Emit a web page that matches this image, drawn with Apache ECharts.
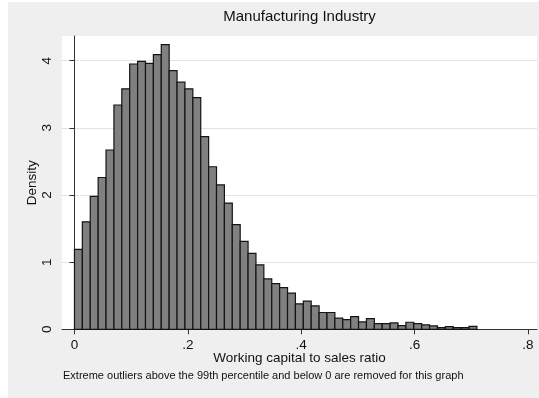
<!DOCTYPE html>
<html>
<head>
<meta charset="utf-8">
<script src="https://cdn.jsdelivr.net/npm/echarts@6/dist/echarts.min.js"></script>
<style>
  html, body { margin: 0; padding: 0; background: #ffffff; }
  #chart { position: absolute; left: 8px; top: 2px; width: 531px; height: 396px; }
</style>
</head>
<body>
<div id="chart"></div>
<script>
// Histogram of the working capital to sales ratio: 51 equal-width bins over [0, 0.71]
const binStart = 0;
const binEnd = 0.71;
const density = [
  1.19, 1.60, 1.98, 2.26, 2.67, 3.34, 3.58, 3.95, 3.99, 3.96,
  4.09, 4.24, 3.85, 3.68, 3.58, 3.45, 2.87, 2.42, 2.15, 1.88,
  1.56, 1.31, 1.13, 0.96, 0.75, 0.68, 0.62, 0.54, 0.38, 0.42,
  0.35, 0.25, 0.25, 0.165, 0.145, 0.19, 0.11, 0.16, 0.085, 0.085,
  0.095, 0.055, 0.105, 0.085, 0.065, 0.05, 0.025, 0.04, 0.025, 0.025,
  0.045
];
const xTicks = [0, 0.2, 0.4, 0.6, 0.8];
const xTickLabels = ['0', '.2', '.4', '.6', '.8'];
const yTicks = [0, 1, 2, 3, 4];
const yTickLabels = ['0', '1', '2', '3', '4'];

const titleText = 'Manufacturing Industry';
const xTitle = 'Working capital to sales ratio';
const yTitle = 'Density';
const noteText = 'Extreme outliers above the 99th percentile and below 0 are removed for this graph';

const FONT = '"Liberation Sans", Arial, sans-serif';
const binWidth = (binEnd - binStart) / density.length;
const histData = density.map((d, i) => [binStart + i * binWidth, binStart + (i + 1) * binWidth, d]);

const chart = echarts.init(document.getElementById('chart'), null, { renderer: 'canvas' });

chart.setOption({
  backgroundColor: '#efefef',
  animation: false,
  textStyle: { fontFamily: FONT },
  grid: {
    show: true,
    left: 54, top: 34, right: 2, bottom: 68.7,
    backgroundColor: '#ffffff',
    borderWidth: 0
  },
  xAxis: {
    type: 'value',
    min: -0.022,
    max: 0.816,
    name: xTitle,
    nameLocation: 'middle',
    nameGap: 22,
    nameMoveOverlap: false,
    nameTextStyle: { fontFamily: FONT, fontSize: 13.5, color: '#111' },
    axisLine: { show: true, onZero: false, lineStyle: { color: '#333', width: 1 } },
    axisTick: { show: true, inside: false, length: 5, customValues: xTicks, lineStyle: { color: '#333' } },
    axisLabel: {
      customValues: xTicks,
      margin: 9,
      fontFamily: FONT, fontSize: 13.5, color: '#111',
      formatter: v => xTickLabels[xTicks.findIndex(t => Math.abs(t - v) < 1e-9)] ?? ''
    },
    splitLine: { show: false }
  },
  yAxis: {
    type: 'value',
    min: 0,
    max: 4.367,
    name: yTitle,
    nameLocation: 'middle',
    nameGap: 23,
    nameMoveOverlap: false,
    nameRotate: 90,
    nameTextStyle: { fontFamily: FONT, fontSize: 13.5, color: '#111' },
    axisLine: { show: true, lineStyle: { color: '#333', width: 1 } },
    axisTick: { show: true, inside: false, length: 5, customValues: yTicks, lineStyle: { color: '#333' } },
    axisLabel: {
      customValues: yTicks,
      rotate: 90,
      margin: 8,
      fontFamily: FONT, fontSize: 13.5, color: '#111',
      formatter: v => yTickLabels[yTicks.findIndex(t => Math.abs(t - v) < 1e-9)] ?? ''
    },
    splitLine: { show: true, lineStyle: { color: '#e3e3e3', width: 1 } }
  },
  graphic: [
    {
      type: 'text', x: 291.5, y: 15, z: 10,
      style: { text: titleText, fontFamily: FONT, fontSize: 15, fill: '#111', align: 'center', verticalAlign: 'middle' }
    },
    {
      type: 'text', x: 55, y: 374, z: 10,
      style: { text: noteText, fontFamily: FONT, fontSize: 11, fill: '#111', align: 'left', verticalAlign: 'middle' }
    }
  ],
  series: [{
    type: 'custom',
    name: yTitle,
    data: histData,
    encode: { x: [0, 1], y: 2 },
    renderItem: (params, api) => {
      const top = api.coord([api.value(0), api.value(2)]);
      const base = api.coord([api.value(1), 0]);
      return {
        type: 'rect',
        shape: { x: top[0], y: top[1], width: base[0] - top[0], height: base[1] - top[1] },
        style: { fill: '#808080', stroke: '#141414', lineWidth: 1.2 }
      };
    }
  }]
});
</script>
</body>
</html>
